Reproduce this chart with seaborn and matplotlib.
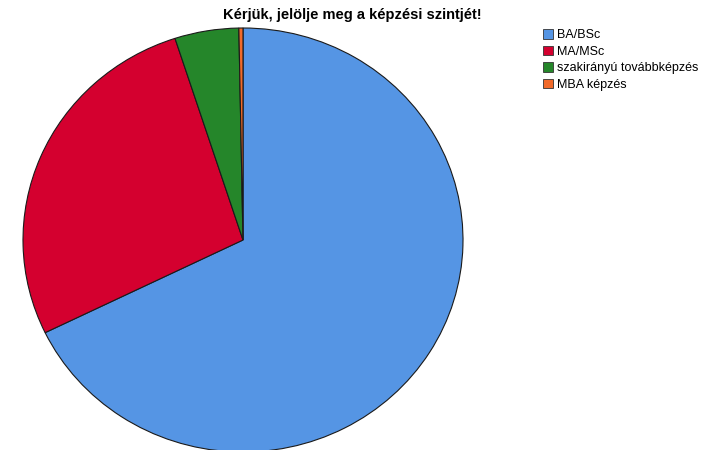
import matplotlib
matplotlib.use("Agg")
import matplotlib.pyplot as plt
import matplotlib.patches as mpatches
import seaborn as sns

# --- data ---
title = "Kérjük, jelölje meg a képzési szintjét!"
categories = ["BA/BSc", "MA/MSc", "szakirányú továbbképzés", "MBA képzés"]
shares = [67.8, 27.2, 4.7, 0.3]
colors = ["#5595e4", "#d4002f", "#25862a", "#f26a2a"]

sns.set_style("white")
plt.rcParams['font.family'] = ['Liberation Sans', 'DejaVu Sans']

fig = plt.figure(figsize=(7.08, 4.5), dpi=100)

# pie axis placed in pixel terms (slightly squashed vertically, bottom clipped)
W, H = 708, 450
left, top, pw, ph = 23, 28, 440, 424
ax = fig.add_axes([left / W, (H - top - ph) / H, pw / W, ph / H])
ax.pie(shares, colors=colors, startangle=90, counterclock=False,
       wedgeprops=dict(edgecolor="#1a1a1a", linewidth=0.8))
ax.set_aspect("auto")
ax.set_xlim(-1, 1)
ax.set_ylim(-1, 1)
ax.axis("off")

fig.text(352 / W, 1 - 15 / H, title, ha="center", va="center",
         fontsize=10.5, fontweight="bold", color="black")

handles = [mpatches.Patch(facecolor=c, edgecolor="#333333", linewidth=0.6, label=l)
           for c, l in zip(colors, categories)]
fig.legend(handles=handles, loc="upper left", bbox_to_anchor=(543 / W, 1 - 29 / H),
           frameon=False, fontsize=9, handlelength=0.8, handleheight=0.8,
           handletextpad=0.35, labelspacing=0.35, borderaxespad=0,
           borderpad=0, labelcolor="black")

fig.savefig("out.png", dpi=100)
